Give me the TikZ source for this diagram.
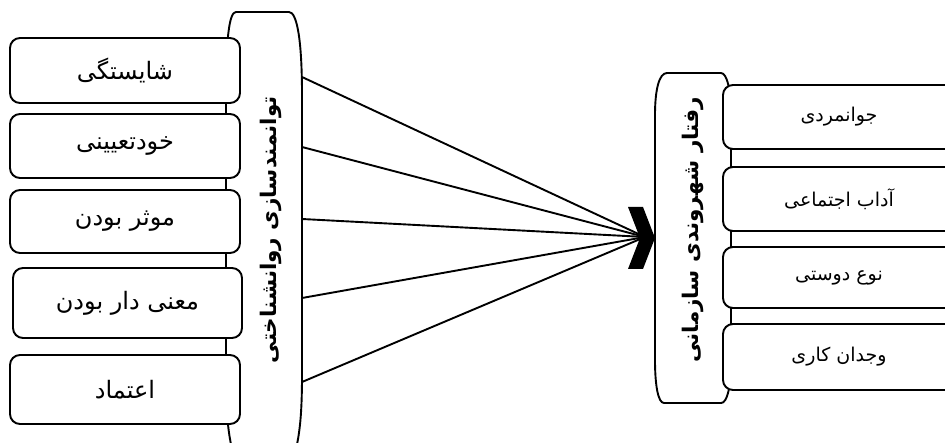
\documentclass[tikz,border=0pt]{standalone}
\usepackage{fontspec}
\newfontfamily\fa[Script=Arabic]{DejaVu Sans}
\TeXXeTstate=1
\begin{document}
\begin{tikzpicture}[x=1pt,y=-1pt,
  box/.style={draw,line width=1.9pt,rounded corners=10pt,fill=white,inner sep=0pt},
  lbox/.style={box,minimum width=230pt,font=\fa\fontsize{24}{28}\selectfont},
  rbox/.style={box,minimum width=232pt,font=\fa\fontsize{19}{23}\selectfont},
  tall/.style={draw,line width=1.9pt,fill=white},
  title/.style={rotate=90,font=\fa\bfseries\fontsize{21.5}{25}\selectfont,inner sep=0pt},
  conn/.style={line width=1.9pt}]
\useasboundingbox (0,0) rectangle (945,443);
\clip (0,0) rectangle (945,443);
% left tall shape
\draw[tall] (236,12) -- (289,12) .. controls (297,12) and (302,40) .. (302,95)
  -- (302,375) .. controls (302,420) and (299,440) .. (293,460)
  -- (235,460) .. controls (229,440) and (226,420) .. (226,375)
  -- (226,95) .. controls (226,40) and (229,12) .. (236,12) -- cycle;
% right tall shape
\draw[tall] (667,73) -- (721,73) .. controls (727,73) and (731,90) .. (731,115)
  -- (731,360) .. controls (731,388) and (727,403) .. (721,403)
  -- (664,403) .. controls (658,403) and (655,385) .. (655,360)
  -- (655,115) .. controls (655,90) and (659,73) .. (667,73) -- cycle;
% left boxes
\node[lbox,minimum height=65pt] (l1) at (125,70.5) {\beginR شایستگی\endR};
\node[lbox,minimum height=64pt] (l2) at (125,146) {\beginR خودتعیینی\endR};
\node[lbox,minimum height=63pt] (l3) at (125,221.5) {\beginR موثر بودن\endR};
\node[lbox,minimum height=70pt,minimum width=229pt] (l4) at (127.5,303) {\beginR معنی دار بودن\endR};
\node[lbox,minimum height=69pt] (l5) at (125,389.5) {\beginR اعتماد\endR};
% right boxes
\node[rbox,minimum height=64pt] (r1) at (839,117) {\beginR جوانمردی\endR};
\node[rbox,minimum height=64pt] (r2) at (839,199) {\beginR آداب اجتماعی\endR};
\node[rbox,minimum height=61pt] (r3) at (839,277.5) {\beginR نوع دوستی\endR};
\node[rbox,minimum height=66pt] (r4) at (839,357) {\beginR وجدان کاری\endR};
% titles
\node[title] (lt) at (271,230) {\beginR توانمندسازی روانشناختی\endR};
\node[title] (rt) at (693,230) {\beginR رفتار شهروندی سازمانی\endR};
% connectors
\coordinate (s1) at (302,77);
\coordinate (s2) at (302,147);
\coordinate (s3) at (302,219);
\coordinate (s4) at (302,298);
\coordinate (s5) at (302,382);
\coordinate (t) at (645,237);
\foreach \i in {1,...,5} \draw[conn] (s\i) -- (t);
\fill (628,207) -- (643,207) -- (655,238) -- (643,269) -- (628,269) -- (640,238) -- cycle;
\end{tikzpicture}
\end{document}
